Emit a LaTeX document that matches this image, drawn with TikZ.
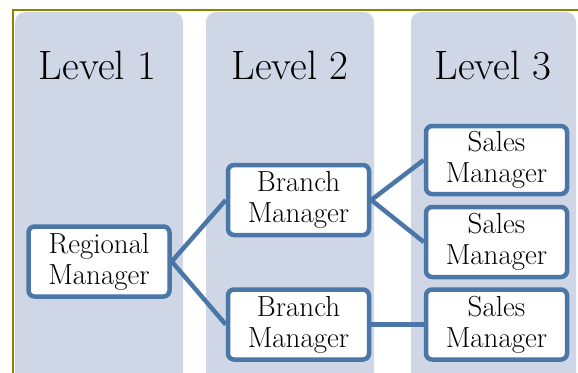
\documentclass[tikz,border=0pt]{standalone}
\definecolor{colfill}{RGB}{207,214,229}
\definecolor{boxline}{RGB}{74,118,168}
\definecolor{frameline}{RGB}{134,134,0}
\tikzset{
  level/.style={anchor=base, font=\fontsize{41}{43}\selectfont},
  job/.style={draw=boxline, line width=4.5pt, fill=white, rounded corners=6pt,
    minimum width=141pt, minimum height=70pt, align=center, inner sep=0pt,
    font=\fontsize{29}{31}\selectfont},
  link/.style={draw=boxline, line width=4.5pt}
}
\begin{document}
\begin{tikzpicture}[x=1pt,y=-1pt]
	\useasboundingbox (0,0) rectangle (578,372);
	\clip (0,0) rectangle (578,372);
	% columns
	\fill[colfill, rounded corners=10pt] (15,12) rectangle (183,390);
	\fill[colfill, rounded corners=10pt] (206,12) rectangle (374,390);
	\fill[colfill, rounded corners=10pt] (411,12) rectangle (576,390);
	\draw[frameline, line width=2.5pt] (13,390) -- (13,10) -- (590,10);
	% titles
	\node[level] (l1) at (97.5,79) {Level 1};
	\node[level] (l2) at (290,79) {Level 2};
	\node[level] (l3) at (493,79) {Level 3};
	% boxes
	\node[job] (reg) at (99,261.5) {Regional\\Manager};
	\node[job] (br1) at (298.5,200) {Branch\\Manager};
	\node[job] (br2) at (298.5,324.5) {Branch\\Manager};
	\node[job, minimum height=68pt] (sm1) at (496.5,160) {Sales\\Manager};
	\node[job] (sm2) at (496.5,242) {Sales\\Manager};
	\node[job] (sm3) at (496.5,324.5) {Sales\\Manager};
	% links
	\path[link] (reg.east) -- (br1.west);
	\path[link] (reg.east) -- (br2.west);
	\path[link] (br1.east) -- (sm1.west);
	\path[link] (br1.east) -- (sm2.west);
	\path[link] (br2.east) -- (sm3.west);
\end{tikzpicture}
\end{document}
